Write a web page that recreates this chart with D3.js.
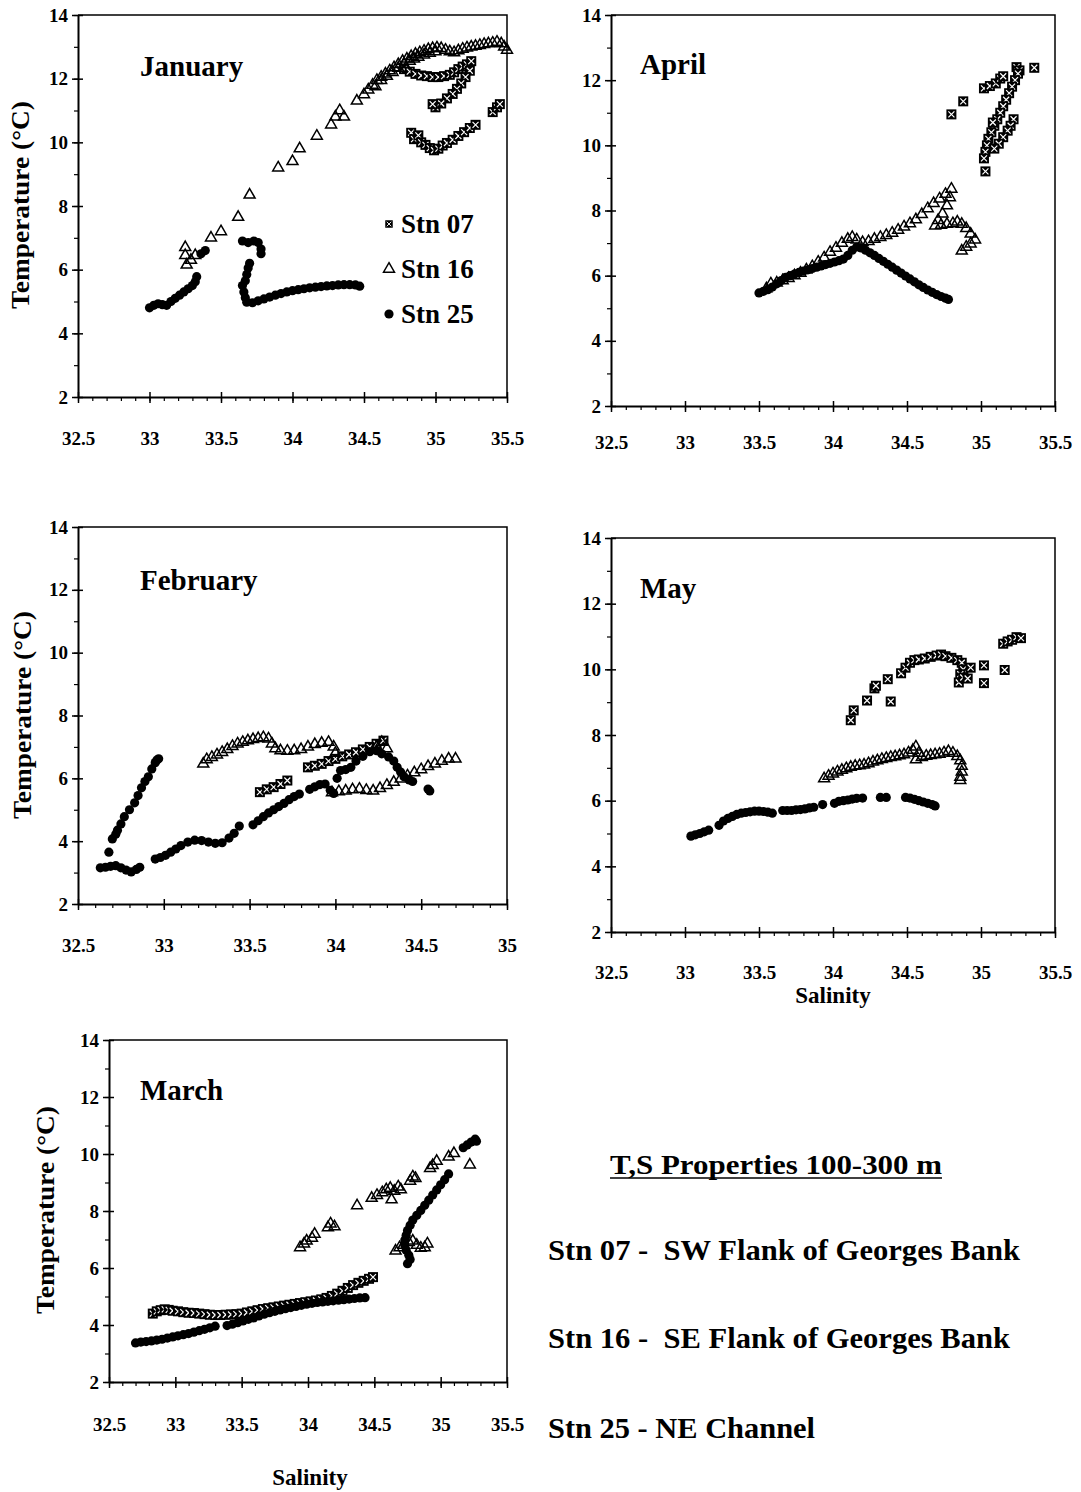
<!DOCTYPE html>
<html>
<head>
<meta charset="utf-8">
<script src="https://cdn.jsdelivr.net/npm/d3@7"></script>
<style>
body{margin:0;background:#fff;}
svg text{font-family:"Liberation Serif","Times New Roman",serif;font-weight:bold;fill:#000;}
</style>
</head>
<body>
<div id="canvas"></div>
<script>
// T,S data: [salinity, temperature]
// Stn 07 = crossed square, Stn 16 = open triangle, Stn 25 = filled circle

var janS07 = [[34.78,12.30],[34.82,12.22],[34.86,12.15],[34.90,12.10],[34.94,12.08],[34.98,12.05],[35.02,12.05],[35.06,12.08],[35.10,12.12],[35.13,12.20],[35.16,12.30],[35.19,12.38],[35.22,12.45],[35.25,12.55],[35.24,12.25],[35.21,12.05],[35.18,11.85],[35.15,11.68],[35.12,11.52],[35.08,11.38],[35.04,11.22],[35.00,11.10],[34.98,11.20],
  [34.83,10.30],[34.85,10.10],[34.88,10.22],[34.90,10.00],[34.93,9.92],[34.96,9.82],[34.99,9.75],[35.02,9.80],[35.05,9.90],[35.08,9.98],[35.12,10.08],[35.16,10.20],[35.20,10.32],[35.24,10.45],[35.28,10.55],[35.40,10.95],[35.43,11.10],[35.45,11.20]];
var janS16 = [[33.25,6.70],[33.25,6.45],[33.26,6.15],[33.29,6.30],[33.32,6.45],[33.43,7.00],[33.50,7.20],[33.62,7.65],[33.70,8.35],[33.90,9.20],[34.00,9.40],[34.05,9.80],[34.17,10.20],[34.27,10.55],[34.30,10.80],[34.33,11.00],[34.36,10.80],[34.45,11.30],[34.50,11.50],[34.53,11.65],[34.56,11.80],[34.59,11.95],[34.62,12.05],[34.65,12.15],[34.68,12.25],[34.71,12.35],[34.74,12.45],[34.77,12.55],[34.80,12.62],[34.83,12.70],[34.86,12.77],[34.89,12.82],[34.92,12.87],[34.95,12.92],[34.98,12.95],[35.01,12.97],[35.04,12.95],[35.07,12.90],[35.10,12.85],[35.13,12.82],[35.16,12.88],[35.19,12.93],[35.22,12.97],[35.25,13.00],[35.28,13.02],[35.31,13.05],[35.34,13.08],[35.37,13.10],[35.40,13.12],[35.43,13.15],[35.46,13.10],[35.48,13.00],[35.50,12.90],
  [34.58,11.75],[34.62,11.95],[34.66,12.08],[34.70,12.20],[34.74,12.33],[34.78,12.45],[34.82,12.55],[34.85,12.62],[34.88,12.68],[34.92,12.75],[34.96,12.80],[35.00,12.85]];
var janS25 = [[33.00,4.80],[33.03,4.88],[33.06,4.93],[33.09,4.90],[33.12,4.88],[33.15,5.00],[33.18,5.10],[33.21,5.20],[33.24,5.30],[33.27,5.40],[33.30,5.50],[33.32,5.62],[33.33,5.78],[33.36,6.50],[33.39,6.60],
  [33.65,6.90],[33.69,6.85],[33.73,6.90],[33.76,6.85],[33.78,6.65],[33.78,6.50],
  [33.70,6.20],[33.69,6.05],[33.68,5.85],[33.67,5.65],[33.65,5.50],[33.66,5.30],[33.67,5.12],[33.68,4.98],[33.72,4.96],[33.76,5.02],[33.80,5.08],[33.84,5.14],[33.88,5.20],[33.92,5.25],[33.96,5.30],[34.00,5.34],[34.04,5.37],[34.08,5.40],[34.12,5.43],[34.16,5.45],[34.20,5.47],[34.24,5.49],[34.28,5.50],[34.32,5.52],[34.36,5.53],[34.40,5.53],[34.44,5.52],[34.47,5.48]];

var febS07 = [[33.56,5.56],[33.60,5.65],[33.64,5.72],[33.68,5.82],[33.72,5.93],[33.84,6.35],[33.88,6.40],[33.92,6.46],[33.96,6.55],[34.00,6.62],[34.04,6.70],[34.08,6.76],[34.12,6.83],[34.16,6.92],[34.20,7.00],[34.24,7.10],[34.28,7.20]];
var febS16 = [[33.23,6.46],[33.25,6.60],[33.28,6.67],[33.31,6.75],[33.34,6.83],[33.37,6.92],[33.40,7.02],[33.43,7.10],[33.46,7.15],[33.49,7.20],[33.52,7.24],[33.55,7.27],[33.58,7.30],[33.61,7.26],[33.63,7.10],[33.65,6.95],[33.68,6.88],[33.72,6.87],[33.76,6.88],[33.80,6.92],[33.84,7.00],[33.88,7.08],[33.92,7.12],[33.96,7.15],[33.99,7.00],[34.00,6.80],
  [33.98,5.55],[34.02,5.58],[34.06,5.60],[34.10,5.64],[34.14,5.66],[34.18,5.62],[34.22,5.60],[34.26,5.68],[34.30,5.78],[34.34,5.88],[34.38,5.98],[34.42,6.08],[34.46,6.18],[34.50,6.28],[34.54,6.38],[34.58,6.46],[34.62,6.55],[34.66,6.62],[34.70,6.62],
  [34.24,7.00],[34.27,7.15],[34.30,6.95]];
var febS25 = [[32.63,3.15],[32.66,3.17],[32.69,3.20],[32.72,3.22],[32.75,3.15],[32.78,3.08],[32.81,3.02],[32.84,3.10],[32.86,3.17],
  [32.68,3.65],[32.70,4.07],[32.72,4.22],[32.73,4.35],[32.75,4.55],[32.77,4.78],[32.80,5.00],[32.83,5.22],[32.85,5.45],[32.87,5.70],[32.89,5.90],[32.91,6.05],[32.93,6.30],[32.95,6.50],[32.97,6.62],[32.96,6.58],
  [32.95,3.43],[32.98,3.48],[33.01,3.55],[33.04,3.65],[33.07,3.75],[33.10,3.86],[33.14,3.97],[33.18,4.03],[33.22,4.02],[33.26,3.97],[33.30,3.93],[33.34,3.95],[33.38,4.10],[33.41,4.25],[33.44,4.48],[33.52,4.52],[33.55,4.65],[33.58,4.78],[33.61,4.90],[33.64,5.00],[33.67,5.10],[33.70,5.20],[33.73,5.32],[33.76,5.42],[33.79,5.50],[33.85,5.65],[33.88,5.73],[33.91,5.80],[33.94,5.82],[33.97,5.62],[33.99,5.52],[34.01,6.00],[34.03,6.25],[34.06,6.28],[34.09,6.35],[34.12,6.55],[34.16,6.70],[34.20,6.85],[34.24,6.88],[34.27,6.78],[34.31,6.68],[34.34,6.55],[34.36,6.35],[34.38,6.20],[34.40,6.05],[34.43,5.95],[34.45,5.90],[34.54,5.66],[34.55,5.60]];

var marS07 = [[32.83,4.40],[32.86,4.48],[32.89,4.52],[32.92,4.55],[32.95,4.53],[32.98,4.50],[33.02,4.48],[33.06,4.45],[33.10,4.43],[33.14,4.42],[33.18,4.40],[33.22,4.38],[33.26,4.36],[33.30,4.35],[33.34,4.35],[33.38,4.36],[33.42,4.37],[33.46,4.38],[33.50,4.40],[33.54,4.44],[33.58,4.48],[33.62,4.52],[33.66,4.56],[33.70,4.59],[33.74,4.62],[33.78,4.65],[33.82,4.68],[33.86,4.71],[33.90,4.74],[33.94,4.77],[33.98,4.80],[34.02,4.83],[34.06,4.86],[34.10,4.90],[34.14,4.95],[34.18,5.02],[34.22,5.10],[34.26,5.20],[34.30,5.30],[34.34,5.40],[34.38,5.48],[34.42,5.55],[34.46,5.62],[34.49,5.68]];
var marS16 = [[33.94,6.72],[33.97,6.85],[33.99,6.95],[34.03,7.05],[34.05,7.19],[34.15,7.42],[34.17,7.55],[34.20,7.45],[34.37,8.19],[34.48,8.45],[34.52,8.55],[34.56,8.65],[34.59,8.75],[34.62,8.80],[34.63,8.40],[34.65,8.70],[34.68,8.85],[34.70,8.75],[34.77,9.05],[34.79,9.20],[34.81,9.15],[34.92,9.50],[34.94,9.60],[34.97,9.75],[35.06,9.90],[35.10,10.02],[35.22,9.62],
  [34.66,6.60],[34.69,6.72],[34.72,6.80],[34.76,6.90],[34.79,6.95],[34.82,6.80],[34.85,6.70],[34.88,6.72],[34.90,6.85]];
var marS25 = [[32.70,3.37],[32.74,3.40],[32.78,3.42],[32.82,3.44],[32.86,3.47],[32.90,3.50],[32.94,3.54],[32.98,3.58],[33.02,3.62],[33.06,3.66],[33.10,3.70],[33.14,3.75],[33.18,3.80],[33.22,3.85],[33.26,3.90],[33.30,3.96],[33.39,3.98],[33.43,4.03],[33.47,4.08],[33.51,4.14],[33.55,4.20],[33.59,4.25],[33.63,4.32],[33.67,4.38],[33.71,4.43],[33.75,4.48],[33.79,4.53],[33.83,4.57],[33.87,4.61],[33.91,4.65],[33.95,4.69],[33.99,4.73],[34.03,4.76],[34.07,4.79],[34.11,4.81],[34.15,4.83],[34.19,4.85],[34.23,4.87],[34.27,4.89],[34.31,4.91],[34.35,4.93],[34.39,4.95],[34.43,4.96],
  [34.75,6.15],[34.77,6.30],[34.76,6.45],[34.74,6.62],[34.73,6.80],[34.73,6.98],[34.74,7.15],[34.75,7.32],[34.77,7.50],[34.79,7.68],[34.82,7.85],[34.85,8.02],[34.88,8.20],[34.91,8.38],[34.94,8.56],[34.97,8.74],[35.00,8.92],[35.03,9.10],[35.06,9.30],[35.17,10.22],[35.20,10.32],[35.23,10.42],[35.26,10.52],[35.27,10.45]];

var aprS07 = [[34.80,10.95],[34.88,11.35],[35.02,11.75],[35.06,11.82],[35.10,11.90],[35.13,12.05],[35.15,12.12],[35.24,12.40],[35.26,12.30],[35.36,12.38],
  [35.25,12.20],[35.23,12.00],[35.21,11.80],[35.19,11.60],[35.17,11.40],[35.15,11.20],[35.13,11.00],[35.11,10.80],[35.09,10.60],[35.07,10.40],[35.05,10.20],[35.04,10.00],[35.03,9.80],[35.02,9.60],[35.03,9.20],
  [35.22,10.80],[35.20,10.60],[35.18,10.45],[35.15,10.25],[35.12,10.05],[35.09,9.90],[35.08,10.70]];
var aprS16 = [[33.55,5.60],[33.58,5.75],[33.62,5.78],[33.66,5.85],[33.70,5.92],[33.74,6.00],[33.78,6.08],[33.82,6.18],[33.86,6.28],[33.90,6.42],[33.94,6.55],[33.98,6.72],[34.02,6.85],[34.06,7.00],[34.10,7.12],[34.13,7.18],[34.16,7.10],[34.20,7.02],
  [34.24,7.05],[34.28,7.12],[34.32,7.18],[34.36,7.24],[34.40,7.31],[34.44,7.40],[34.48,7.50],[34.52,7.60],[34.56,7.72],[34.60,7.88],[34.64,8.06],[34.68,8.22],[34.72,8.36],[34.76,8.50],[34.80,8.66],
  [34.79,8.40],[34.77,8.15],[34.74,7.90],[34.71,7.70],[34.69,7.53],[34.73,7.55],[34.77,7.58],[34.81,7.60],[34.84,7.65],[34.87,7.58],[34.90,7.45],[34.93,7.28],[34.96,7.10],[34.93,6.98],[34.90,6.88],[34.87,6.76]];
var aprS25 = [[33.50,5.47],[33.53,5.52],[33.56,5.57],[33.59,5.65],[33.62,5.75],[33.65,5.85],[33.68,5.95],[33.71,6.00],[33.74,6.05],[33.77,6.10],[33.80,6.14],[33.83,6.18],[33.86,6.22],[33.89,6.26],[33.92,6.30],[33.95,6.34],[33.98,6.38],[34.01,6.42],[34.04,6.46],[34.07,6.51],[34.10,6.62],[34.13,6.78],[34.16,6.88],
  [34.19,6.85],[34.22,6.78],[34.25,6.70],[34.28,6.62],[34.31,6.53],[34.34,6.44],[34.37,6.35],[34.40,6.26],[34.43,6.17],[34.46,6.08],[34.49,5.99],[34.52,5.90],[34.55,5.81],[34.58,5.72],[34.61,5.64],[34.64,5.56],[34.67,5.49],[34.70,5.42],[34.73,5.36],[34.76,5.31],[34.78,5.27]];

var mayS07 = [[34.12,8.45],[34.14,8.75],[34.23,9.05],[34.28,9.42],[34.29,9.50],[34.37,9.70],[34.39,9.02],[34.46,9.88],[34.49,10.05],[34.52,10.20],[34.55,10.28],[34.58,10.30],[34.62,10.33],[34.66,10.38],[34.70,10.42],[34.73,10.45],[34.76,10.40],[34.80,10.35],[34.84,10.28],[34.87,10.20],[34.88,10.00],[34.86,9.85],[34.85,9.60],[34.88,9.75],[34.91,9.72],[34.93,10.05],[35.02,10.12],[35.02,9.58],[35.16,9.98],[35.15,10.78],[35.18,10.85],[35.21,10.90],[35.24,10.98],[35.27,10.95]];
var mayS16 = [[33.94,6.67],[33.97,6.75],[34.00,6.82],[34.03,6.88],[34.06,6.93],[34.09,6.98],[34.12,7.02],[34.15,7.05],[34.18,7.07],[34.21,7.09],[34.24,7.13],[34.27,7.18],[34.30,7.22],[34.33,7.26],[34.36,7.29],[34.39,7.32],[34.42,7.34],[34.45,7.37],[34.48,7.40],[34.51,7.46],[34.54,7.54],[34.56,7.64],[34.58,7.45],[34.56,7.25],[34.60,7.32],[34.63,7.36],[34.66,7.38],[34.69,7.40],[34.72,7.42],[34.75,7.46],[34.78,7.50],[34.81,7.45],[34.84,7.35],[34.86,7.22],[34.87,7.05],[34.87,6.88],[34.86,6.72],[34.86,6.62]];
var mayS25 = [[33.04,4.92],[33.07,4.96],[33.10,5.00],[33.13,5.05],[33.16,5.10],
  [33.23,5.25],[33.26,5.38],[33.29,5.46],[33.32,5.52],[33.35,5.58],[33.38,5.62],[33.41,5.64],[33.44,5.66],[33.47,5.68],[33.50,5.68],[33.53,5.67],[33.56,5.65],[33.59,5.62],
  [33.66,5.70],[33.69,5.70],[33.72,5.70],[33.75,5.72],[33.78,5.73],[33.81,5.75],[33.84,5.78],[33.87,5.80],
  [33.93,5.88],[34.01,5.92],[34.04,5.98],[34.07,6.00],[34.10,6.02],[34.13,6.05],[34.16,6.07],[34.20,6.08],
  [34.32,6.10],[34.36,6.10],
  [34.49,6.10],[34.52,6.08],[34.55,6.04],[34.58,6.00],[34.61,5.96],[34.64,5.92],[34.67,5.88],[34.69,5.84]];

var tempTicks = [2,4,6,8,10,12,14];
var salTicks = [32.5,33,33.5,34,34.5,35,35.5];
var salTicksFeb = [32.5,33,33.5,34,34.5,35];
var stations = ['Stn 07','Stn 16','Stn 25'];
var heading = 'T,S Properties 100-300 m';
var stationNotes = ['Stn 07 -  SW Flank of Georges Bank','Stn 16 -  SE Flank of Georges Bank','Stn 25 - NE Channel'];

var W = 1081, H = 1492;
var svg = d3.select('#canvas').append('svg').attr('width',W).attr('height',H);
svg.append('rect').attr('width',W).attr('height',H).attr('fill','#fff');

// panel layout
var panels = [
  {name:'January', s07:janS07, s16:janS16, s25:janS25, ticks:salTicks, x0:78, x1:507, y0:15, y1:397, lab:35, tx:140, ty:76, yTitle:[29,205], legend:true},
  {name:'April', s07:aprS07, s16:aprS16, s25:aprS25, ticks:salTicks, x0:611, x1:1055, y0:15, y1:406, lab:30, tx:640, ty:74},
  {name:'February', s07:febS07, s16:febS16, s25:febS25, ticks:salTicksFeb, x0:78, x1:507, y0:527, y1:904, lab:35, tx:140, ty:590, yTitle:[31,715]},
  {name:'May', s07:mayS07, s16:mayS16, s25:mayS25, ticks:salTicks, x0:611, x1:1055, y0:538, y1:932, lab:34, tx:640, ty:598, xTitle:[833,1003]},
  {name:'March', s07:marS07, s16:marS16, s25:marS25, ticks:salTicks, x0:109, x1:507, y0:1040, y1:1382, lab:36, tx:140, ty:1100, yTitle:[54,1210], xTitle:[310,1485]}
];

var tri = d3.symbol().type(d3.symbolTriangle).size(52);

function drawS07(g, pts){
  var m = g.selectAll('.s07').data(pts).enter().append('g').attr('class','s07')
    .attr('transform', function(d){ return 'translate(' + d[0] + ',' + d[1] + ')'; });
  m.append('rect').attr('x',-5).attr('y',-5).attr('width',10).attr('height',10).attr('fill','#000');
  m.append('path').attr('d','M-3,-3L3,3M-3,3L3,-3').attr('stroke','#fff').attr('stroke-width',1.2);
}
function drawS16(g, pts){
  g.selectAll('.s16').data(pts).enter().append('path').attr('class','s16')
    .attr('d', tri)
    .attr('transform', function(d){ return 'translate(' + d[0] + ',' + d[1] + ')'; })
    .attr('fill','none').attr('stroke','#000').attr('stroke-width',1.5);
}
function drawS25(g, pts){
  g.selectAll('.s25').data(pts).enter().append('circle').attr('class','s25')
    .attr('cx', function(d){ return d[0]; })
    .attr('cy', function(d){ return d[1]; })
    .attr('r',4.6).attr('fill','#000');
}

function styleAxis(sel){
  sel.selectAll('text').attr('font-size',19).attr('font-family',null).attr('fill','#000');
  sel.selectAll('line').attr('stroke','#000').attr('stroke-width',1.5);
  sel.select('.domain').attr('stroke','#000').attr('stroke-width',2);
}

panels.forEach(function(p){
  var sMax = p.ticks[p.ticks.length-1];
  var x = d3.scaleLinear().domain([32.5, sMax]).range([p.x0, p.x1]);
  var y = d3.scaleLinear().domain([2,14]).range([p.y1, p.y0]);
  var g = svg.append('g').attr('class','panel');

  // frame: top and right sides
  g.append('path')
    .attr('d','M' + p.x0 + ',' + p.y0 + 'H' + p.x1 + 'V' + p.y1)
    .attr('fill','none').attr('stroke','#000').attr('stroke-width',1.5);

  // minor ticks
  var minorX = d3.range(0, Math.round((sMax-32.5)*10)+1).map(function(i){ return 32.5 + i/10; });
  var minorY = d3.range(2, 15, 1);
  g.append('g').attr('transform','translate(0,' + p.y1 + ')')
    .call(d3.axisBottom(x).tickValues(minorX).tickSize(4).tickFormat(''))
    .call(function(s){ s.select('.domain').remove(); s.selectAll('line').attr('stroke','#000').attr('stroke-width',1.2); });
  g.append('g').attr('transform','translate(' + p.x0 + ',0)')
    .call(d3.axisLeft(y).tickValues(minorY).tickSize(4).tickFormat(''))
    .call(function(s){ s.select('.domain').remove(); s.selectAll('line').attr('stroke','#000').attr('stroke-width',1.2); });

  // inner halves of major ticks
  g.append('g').attr('transform','translate(0,' + p.y1 + ')')
    .call(d3.axisBottom(x).tickValues(p.ticks).tickSize(-5).tickFormat(''))
    .call(function(s){ s.select('.domain').remove(); s.selectAll('line').attr('stroke','#000').attr('stroke-width',1.5); });
  g.append('g').attr('transform','translate(' + p.x0 + ',0)')
    .call(d3.axisLeft(y).tickValues(tempTicks).tickSize(-5).tickFormat(''))
    .call(function(s){ s.select('.domain').remove(); s.selectAll('line').attr('stroke','#000').attr('stroke-width',1.5); });

  // labelled axes
  g.append('g').attr('transform','translate(0,' + p.y1 + ')')
    .call(d3.axisBottom(x).tickValues(p.ticks).tickSize(6).tickPadding(p.lab-6).tickSizeOuter(0)
      .tickFormat(function(d){ return String(d); }))
    .call(styleAxis);
  g.append('g').attr('transform','translate(' + p.x0 + ',0)')
    .call(d3.axisLeft(y).tickValues(tempTicks).tickSize(6).tickPadding(4).tickSizeOuter(0)
      .tickFormat(function(d){ return String(d); }))
    .call(styleAxis);

  // markers
  var toPx = function(arr){ return arr.map(function(d){ return [x(d[0]), y(d[1])]; }); };
  drawS07(g, toPx(p.s07));
  drawS16(g, toPx(p.s16));
  drawS25(g, toPx(p.s25));

  // month title
  g.append('text').attr('x',p.tx).attr('y',p.ty).attr('font-size',29).text(p.name);

  if (p.yTitle) {
    g.append('text')
      .attr('transform','translate(' + p.yTitle[0] + ',' + p.yTitle[1] + ') rotate(-90)')
      .attr('text-anchor','middle').attr('font-size',25)
      .attr('textLength',208).attr('lengthAdjust','spacingAndGlyphs')
      .text('Temperature (\u00B0C)');
  }
  if (p.xTitle) {
    g.append('text').attr('x',p.xTitle[0]).attr('y',p.xTitle[1])
      .attr('text-anchor','middle').attr('font-size',23).text('Salinity');
  }

  if (p.legend) {
    var lg = svg.append('g').attr('class','legend');
    var ly = [224, 269, 314];
    drawS07(lg, [[389, ly[0]]]);
    lg.select('.s07').attr('transform','translate(389,' + ly[0] + ') scale(0.75)');
    drawS16(lg, [[389, ly[1]]]);
    drawS25(lg, [[389, ly[2]]]);
    lg.selectAll('.lt').data(stations).enter().append('text').attr('class','lt')
      .attr('x',401).attr('y',function(d,i){ return ly[i] + 9; })
      .attr('font-size',27).text(function(d){ return d; });
  }
});

// notes block
var notes = svg.append('g');
notes.append('text').attr('x',610).attr('y',1174).attr('font-size',28)
  .attr('textLength',332).attr('lengthAdjust','spacingAndGlyphs').text(heading);
notes.append('line').attr('x1',610).attr('x2',942).attr('y1',1178).attr('y2',1178)
  .attr('stroke','#000').attr('stroke-width',1.5);
var noteY = [1260, 1348, 1438];
var noteLen = [472, 462, 267];
notes.selectAll('.note').data(stationNotes).enter().append('text').attr('class','note')
  .attr('x',548).attr('y',function(d,i){ return noteY[i]; })
  .attr('font-size',30)
  .attr('textLength',function(d,i){ return noteLen[i]; })
  .attr('lengthAdjust','spacingAndGlyphs')
  .style('white-space','pre')
  .text(function(d){ return d; });
</script>
</body>
</html>
